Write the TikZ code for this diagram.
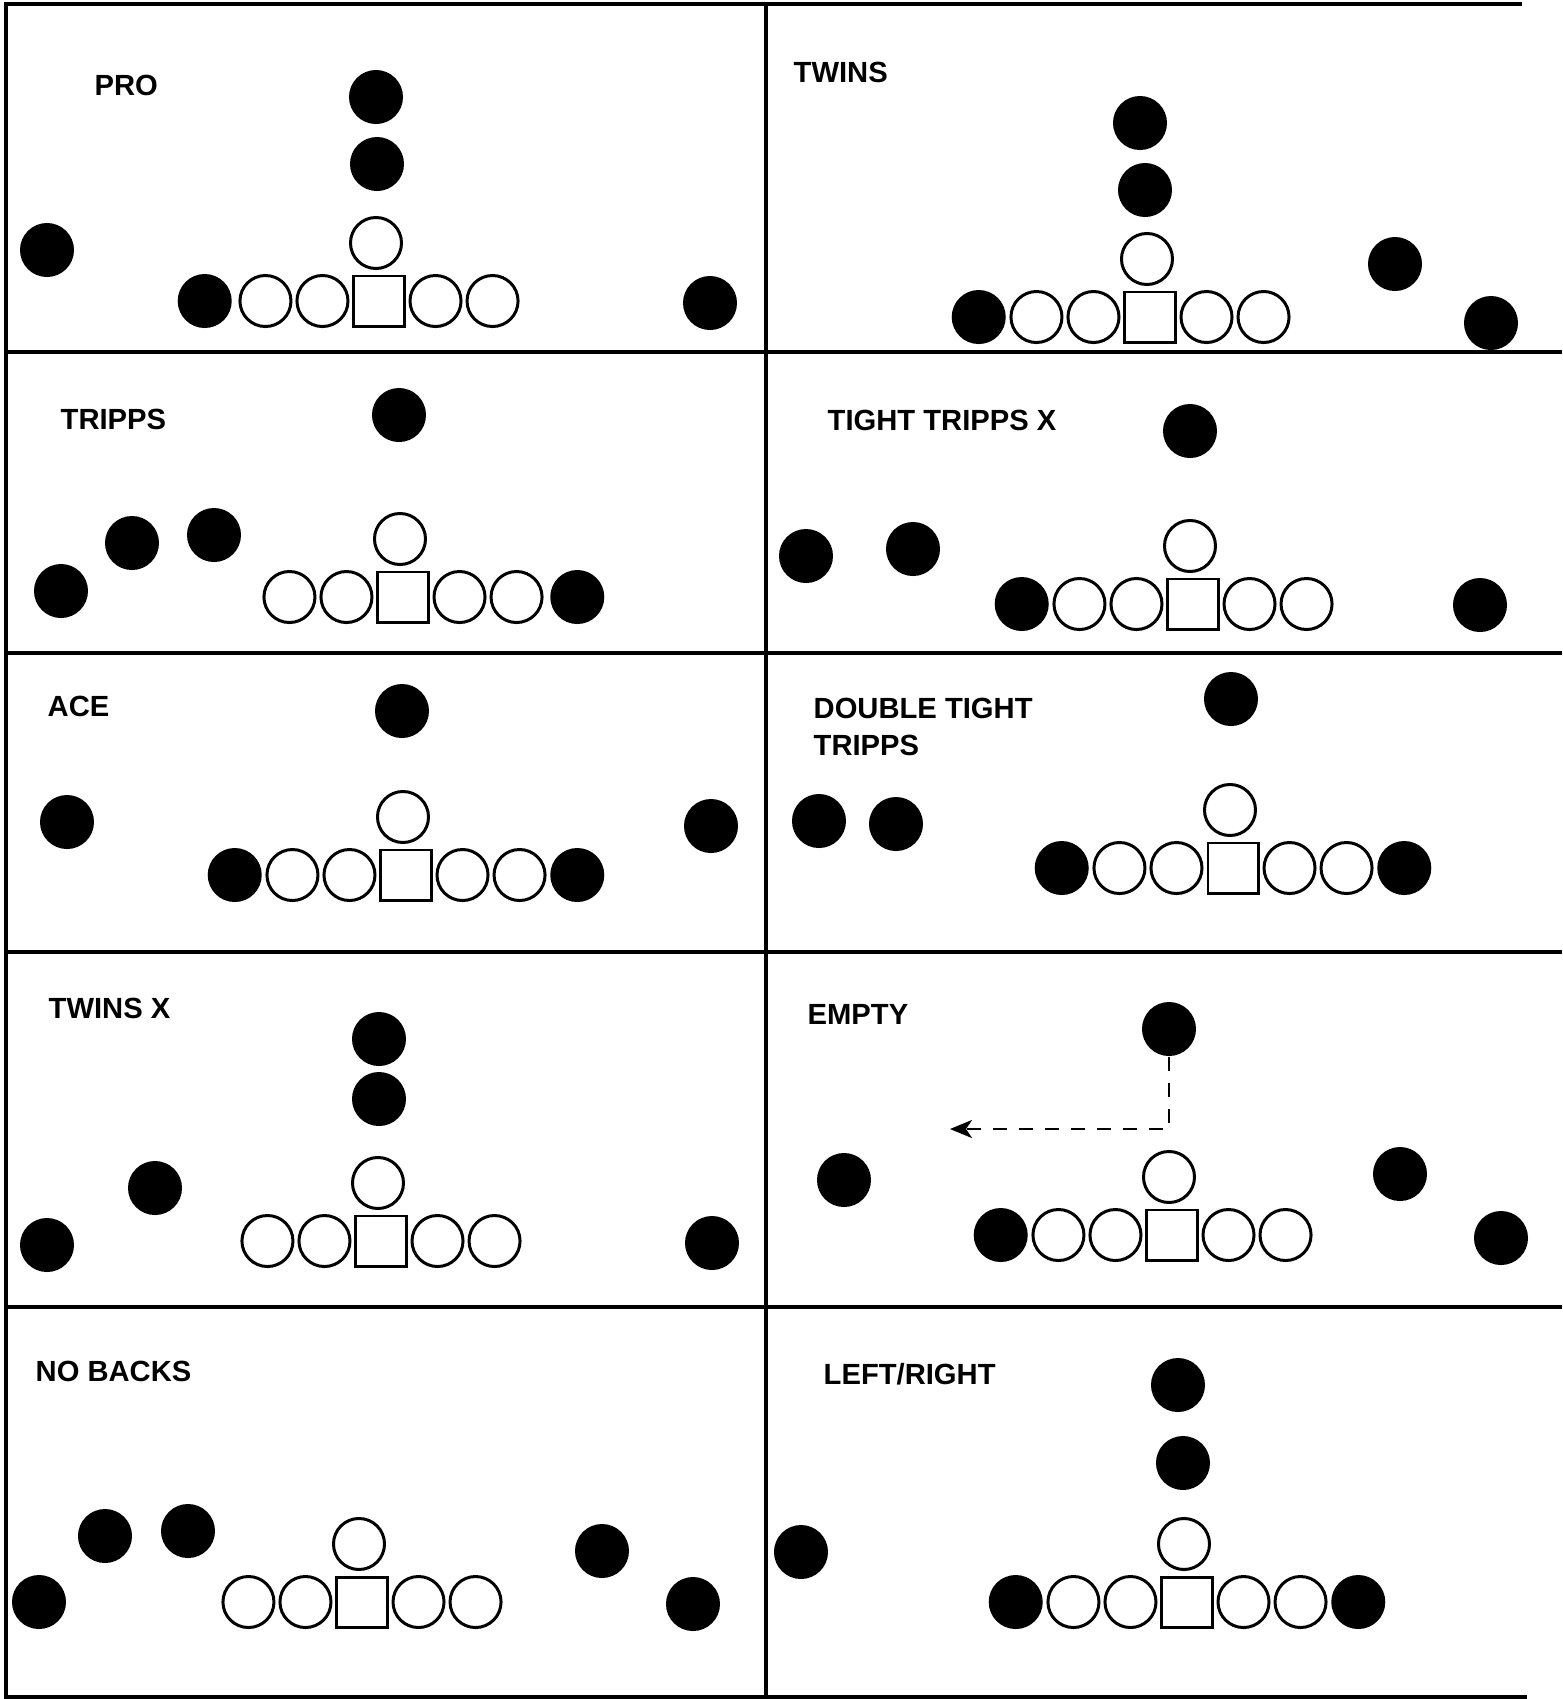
\documentclass[tikz,border=0pt]{standalone}
\usepackage{fontspec}
\setsansfont{Liberation Sans}
\usepackage{tikz}
\usetikzlibrary{arrows.meta,positioning}
\tikzset{
  >={Stealth[length=2.2mm,width=1.8mm,inset=.6mm]},
  boxline/.style={line width=1.15pt,line cap=rect},
  formname/.style={font=\sffamily\bfseries\fontsize{8.3}{10.5}\selectfont,inner sep=0pt,align=left},
  player/.style={circle,fill=black,minimum size=5.4mm,inner sep=0pt},
  lineman/.style={circle,draw=black,fill=white,line width=.85pt,minimum size=5.1mm,inner sep=0pt},
  snapbox/.style={rectangle,draw=black,fill=white,line width=.85pt,minimum size=5mm,inner sep=0pt},
  motion/.style={->,dash pattern=on 1.4mm off 1.2mm,line width=.75pt},
}
% center, guards, tackles and the quarterback behind the ball
\newcommand{\fiveline}[3]{%
  \node[snapbox] (#1-c) at (#2,#3) {};
  \node[lineman,left=.3mm of #1-c] (#1-lg) {};
  \node[lineman,left=.3mm of #1-lg] (#1-lt) {};
  \node[lineman,right=.3mm of #1-c] (#1-rg) {};
  \node[lineman,right=.3mm of #1-rg] (#1-rt) {};
  \node[lineman,above=.45mm of #1-c,xshift=-.3mm] (#1-qb) {};
}

\begin{document}
\begin{tikzpicture}[x=.01cm,y=-.01cm]
  \useasboundingbox (0,0) rectangle (1562,1699);
  % frame
  \draw[boxline] (6,4) -- (1520,4);
  \draw[boxline] (6,4) -- (6,1697);
  \draw[boxline] (766,4) -- (766,1697);
  \foreach \y in {352,653,952,1307} \draw[boxline] (6,\y) -- (1560,\y);
  \draw[boxline] (6,1697) -- (1525,1697);

  % PRO
  \node[formname,anchor=base west] (pro-t) at (94,95) {PRO};
  \fiveline{pro}{379}{301}
  \node[player,left=.6mm of pro-lt] (pro-le) {};
  \node[player] (pro-fb) at (377,164) {};
  \node[player] (pro-hb) at (376,97) {};
  \node[player] (pro-x) at (47,250) {};
  \node[player] (pro-z) at (710,303) {};

  % TWINS
  \node[formname,anchor=base west] (tw-t) at (793,82) {TWINS};
  \fiveline{tw}{1150}{317}
  \node[player,left=.3mm of tw-lt] (tw-le) {};
  \node[player] (tw-fb) at (1145,190) {};
  \node[player] (tw-hb) at (1140,123) {};
  \node[player] (tw-z) at (1395,264) {};
  \node[player] (tw-x) at (1491,323) {};

  % TRIPPS
  \node[formname,anchor=base west] (tr-t) at (60,429) {TRIPPS};
  \fiveline{tr}{403}{597}
  \node[player,right=.6mm of tr-rt] (tr-re) {};
  \node[player] (tr-hb) at (399,415) {};
  \node[player] (tr-x) at (61,591) {};
  \node[player] (tr-z) at (132,543) {};
  \node[player] (tr-s) at (214,535) {};

  % TIGHT TRIPPS X
  \node[formname,anchor=base west] (ttx-t) at (827,430) {TIGHT TRIPPS X};
  \fiveline{ttx}{1193}{604}
  \node[player,left=.3mm of ttx-lt] (ttx-le) {};
  \node[player] (ttx-hb) at (1190,431) {};
  \node[player] (ttx-z) at (806,556) {};
  \node[player] (ttx-s) at (913,549) {};
  \node[player] (ttx-x) at (1480,605) {};

  % ACE
  \node[formname,anchor=base west] (ace-t) at (47,716) {ACE};
  \fiveline{ace}{406}{875}
  \node[player,left=.3mm of ace-lt] (ace-le) {};
  \node[player,right=.3mm of ace-rt] (ace-re) {};
  \node[player] (ace-hb) at (402,711) {};
  \node[player] (ace-x) at (67,822) {};
  \node[player] (ace-z) at (711,826) {};

  % DOUBLE TIGHT TRIPPS
  \node[formname,anchor=north west] (dtt-t) at (813,697) {DOUBLE TIGHT\\TRIPPS};
  \fiveline{dtt}{1233}{868}
  \node[player,left=.3mm of dtt-lt] (dtt-le) {};
  \node[player,right=.3mm of dtt-rt] (dtt-re) {};
  \node[player] (dtt-hb) at (1231,699) {};
  \node[player] (dtt-z) at (819,821) {};
  \node[player] (dtt-s) at (896,824) {};

  % TWINS X
  \node[formname,anchor=base west] (twx-t) at (48,1018) {TWINS X};
  \fiveline{twx}{381}{1241}
  \node[player] (twx-hb) at (379,1039) {};
  \node[player] (twx-fb) at (379,1099) {};
  \node[player] (twx-x) at (47,1245) {};
  \node[player] (twx-z) at (155,1188) {};
  \node[player] (twx-y) at (712,1243) {};

  % EMPTY
  \node[formname,anchor=base west] (emp-t) at (807,1024) {EMPTY};
  \fiveline{emp}{1172}{1235}
  \node[player,left=.3mm of emp-lt] (emp-le) {};
  \node[player] (emp-hb) at (1169,1029) {};
  \node[player] (emp-z) at (844,1180) {};
  \node[player] (emp-s) at (1400,1174) {};
  \node[player] (emp-x) at (1501,1238) {};
  \coordinate (emp-go) at (950,1129);
  \draw[motion] (emp-hb.south) |- (emp-go);

  % NO BACKS
  \node[formname,anchor=base west] (nb-t) at (35,1381) {NO BACKS};
  \fiveline{nb}{362}{1602}
  \node[player] (nb-x) at (39,1602) {};
  \node[player] (nb-z) at (105,1536) {};
  \node[player] (nb-s) at (188,1531) {};
  \node[player] (nb-h) at (602,1551) {};
  \node[player] (nb-y) at (693,1604) {};

  % LEFT/RIGHT
  \node[formname,anchor=base west] (lr-t) at (823,1384) {LEFT/RIGHT};
  \fiveline{lr}{1187}{1602}
  \node[player,left=.3mm of lr-lt] (lr-le) {};
  \node[player,right=.3mm of lr-rt] (lr-re) {};
  \node[player] (lr-hb) at (1178,1385) {};
  \node[player] (lr-fb) at (1183,1463) {};
  \node[player] (lr-x) at (801,1552) {};
\end{tikzpicture}
\end{document}
